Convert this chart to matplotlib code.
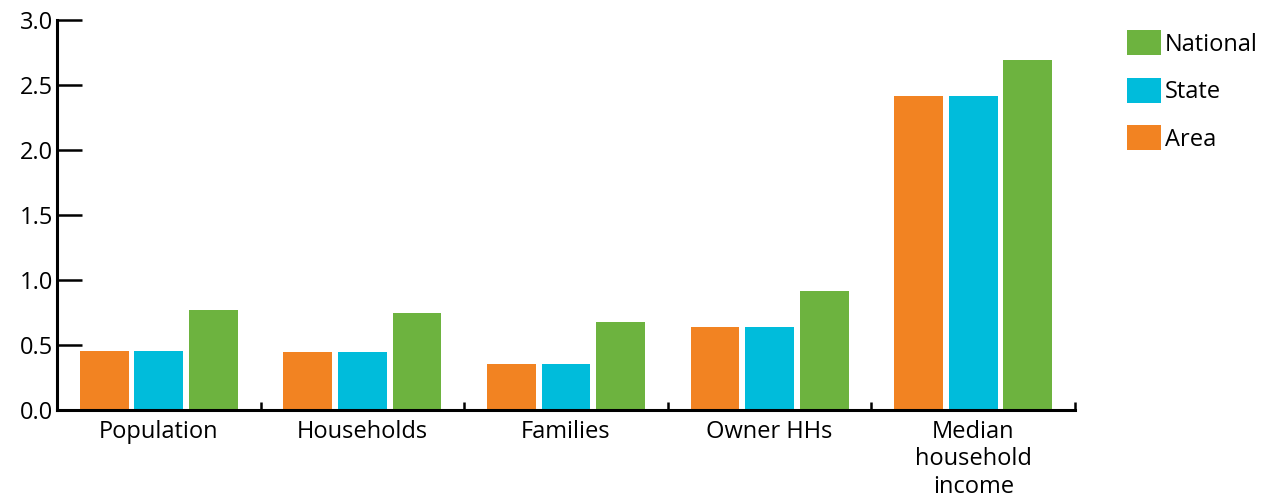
import matplotlib
matplotlib.use("Agg")
import matplotlib.pyplot as plt
import numpy as np

categories = ["Population", "Households", "Families", "Owner HHs", "Median\nhousehold\nincome"]
area = [0.454, 0.446, 0.354, 0.638, 2.415]
state = [0.454, 0.446, 0.354, 0.638, 2.415]
national = [0.769, 0.746, 0.677, 0.915, 2.692]
series_names = ["Area", "State", "National"]
colors = ["#F28322", "#00BCDB", "#6DB33F"]
y_ticks = [0.0, 0.5, 1.0, 1.5, 2.0, 2.5, 3.0]

plt.rcParams["font.family"] = ["Open Sans", "DejaVu Sans"]
plt.rcParams["font.size"] = 17

fig = plt.figure(figsize=(12.64, 4.97), dpi=100)
ax = fig.add_axes([57 / 1264, 87 / 497, (1075 - 57) / 1264, 390 / 497])

x = np.arange(len(categories))
width = 0.24
step = 0.268
handles = []
for i, (vals, name, col) in enumerate(zip([area, state, national], series_names, colors)):
    b = ax.bar(x + (i - 1) * step, vals, width, color=col, label=name)
    handles.append(b)

ax.set_xlim(-0.5, len(categories) - 0.5)
ax.set_ylim(0, 3.0)
ax.set_yticks(y_ticks)
ax.set_yticklabels([f"{t:.1f}" for t in y_ticks])

ax.set_xticks(np.arange(len(categories)) + 0.5)
ax.set_xticklabels([])
ax.set_xticks(x, minor=True)
ax.set_xticklabels(categories, minor=True, va="top", ha="center", linespacing=1.2)

for s in ["top", "right"]:
    ax.spines[s].set_visible(False)
for s in ["left", "bottom"]:
    ax.spines[s].set_linewidth(2.2)
    ax.spines[s].set_color("black")

ax.tick_params(axis="y", direction="in", length=18, width=1.8, pad=3, color="black")
ax.tick_params(axis="x", which="major", direction="in", length=6, width=1.8, color="black")
ax.tick_params(axis="x", which="minor", length=0, pad=7)

fig.legend(handles[::-1], series_names[::-1], loc="upper left",
           bbox_to_anchor=(1127 / 1264, 1 - 30 / 497), frameon=False,
           borderpad=0, handlelength=1.44, handleheight=1.27,
           handletextpad=0.17, labelspacing=0.89, borderaxespad=0)

fig.savefig("out.png", dpi=100)
